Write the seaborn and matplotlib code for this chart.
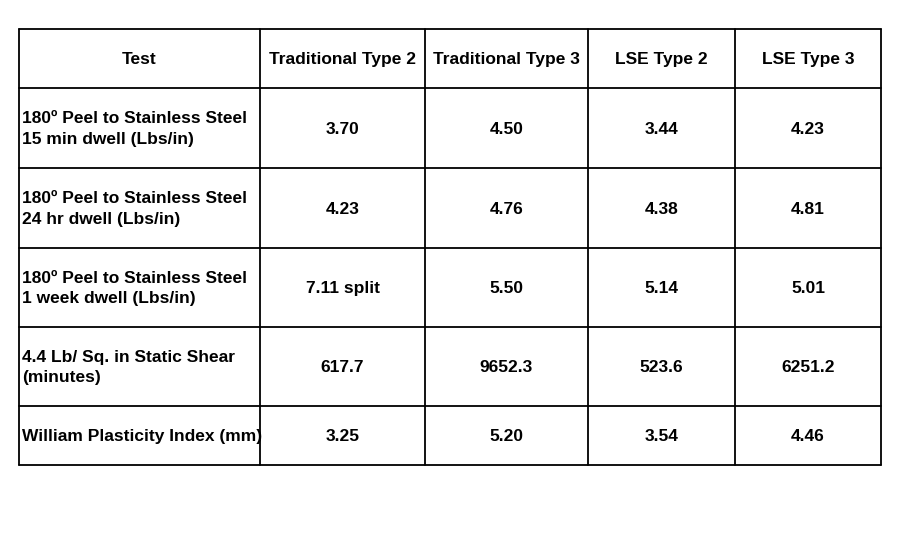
import matplotlib
matplotlib.use("Agg")
import matplotlib.pyplot as plt
import seaborn as sns

sns.set_style("white")
plt.rcParams['font.family'] = ['Liberation Sans', 'DejaVu Sans']
plt.rcParams['text.color'] = 'black'

headers = ["Test", "Traditional Type 2", "Traditional Type 3", "LSE Type 2", "LSE Type 3"]
tests = ["180º Peel to Stainless Steel\n15 min dwell (Lbs/in)",
         "180º Peel to Stainless Steel\n24 hr dwell (Lbs/in)",
         "180º Peel to Stainless Steel\n1 week dwell (Lbs/in)",
         "4.4 Lb/ Sq. in Static Shear\n(minutes)",
         "William Plasticity Index (mm)"]
trad2 = ["3.70", "4.23", "7.11 split", "617.7", "3.25"]
trad3 = ["4.50", "4.76", "5.50", "9652.3", "5.20"]
lse2 = ["3.44", "4.38", "5.14", "523.6", "3.54"]
lse3 = ["4.23", "4.81", "5.01", "6251.2", "4.46"]

col_edges = [19, 260, 425, 588, 735, 881]
row_edges = [29, 88, 168, 248, 327, 406, 465]

fig = plt.figure(figsize=(9, 5.5), dpi=100)
ax = fig.add_axes([0, 0, 1, 1])
ax.set_xlim(0, 900)
ax.set_ylim(550, 0)
ax.axis("off")

for y in row_edges:
    ax.plot([col_edges[0], col_edges[-1]], [y, y], color="black", lw=1.3)
for x in col_edges:
    ax.plot([x, x], [row_edges[0], row_edges[-1]], color="black", lw=1.3)

fs = 12.5
for j, h in enumerate(headers):
    cx = (col_edges[j] + col_edges[j + 1]) / 2
    cy = (row_edges[0] + row_edges[1]) / 2 + 1
    ax.text(cx, cy, h, ha="center", va="center", fontsize=fs, fontweight="bold")

cols = [trad2, trad3, lse2, lse3]
for i, t in enumerate(tests):
    cy = (row_edges[i + 1] + row_edges[i + 2]) / 2 + 1
    ax.text(col_edges[0] + 3, cy, t, ha="left", va="center", fontsize=fs,
            fontweight="bold", linespacing=1.45)
    for j, c in enumerate(cols):
        cx = (col_edges[j + 1] + col_edges[j + 2]) / 2
        ax.text(cx, cy, c[i], ha="center", va="center", fontsize=fs, fontweight="bold")

fig.savefig("out.png", dpi=100)
